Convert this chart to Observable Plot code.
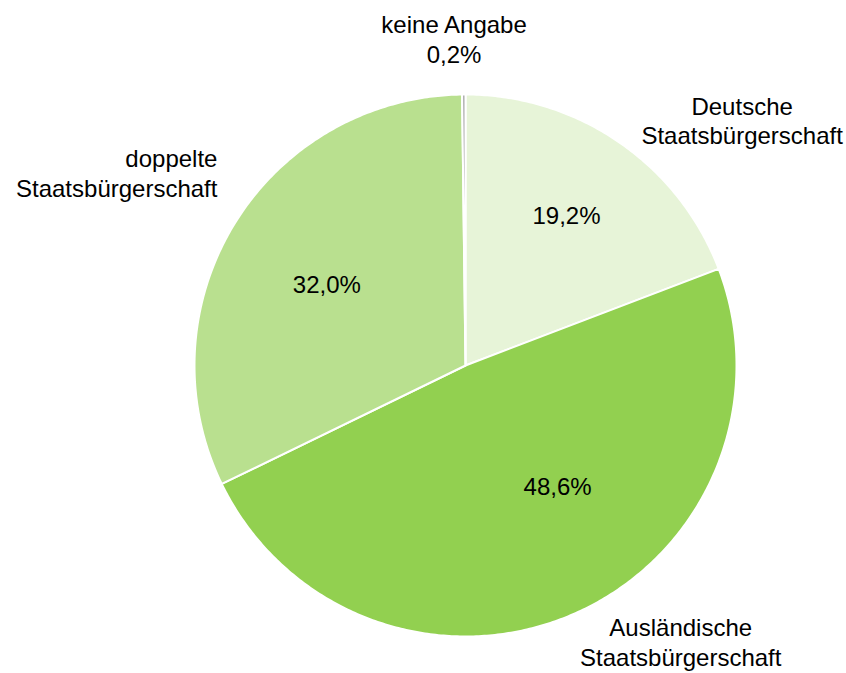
<!DOCTYPE html>
<html><head><meta charset="utf-8">
<script src="https://cdn.jsdelivr.net/npm/d3@7"></script>
<script src="https://cdn.jsdelivr.net/npm/@observablehq/plot@0.6"></script>
<style>body{margin:0;background:#fff;} svg{display:block;}</style>
</head><body><div id="chart"></div>
<script>
// Data
const categories = ["Deutsche\nStaatsbürgerschaft", "Ausländische\nStaatsbürgerschaft", "doppelte\nStaatsbürgerschaft", "keine Angabe"];
const shares = [19.2, 48.6, 32.0, 0.2];
const shareLabels = ["19,2%", "48,6%", "32,0%", "0,2%"];
const colors = ["#e7f4d8", "#92d050", "#b9e08f", "#a6a6a6"];

// Layout (label placement, polar: radius factor, angle in degrees clockwise from top)
const insidePolar = [[0.665, 34.1], [0.565, 143.0], [0.59, 299.9], null];
const outsidePolar = [[1.365, 48.4], [1.29, 142.0], [1.16, 307.9], [1.207, 358.0]];

const slices = categories.map((c, i) => ({category: c, share: shares[i], label: shareLabels[i], color: colors[i], i}));
const arcs = d3.pie().sort(null).value(d => d.share)(slices);

const pts = [];
for (const a of arcs) {
  const n = Math.max(2, Math.ceil((a.endAngle - a.startAngle) / 0.01));
  pts.push({i: a.data.i, x: 0, y: 0});
  for (let k = 0; k <= n; k++) {
    const t = a.startAngle + (a.endAngle - a.startAngle) * k / n;
    pts.push({i: a.data.i, x: Math.sin(t), y: Math.cos(t)});
  }
  pts.push({i: a.data.i, x: 0, y: 0});
}

const polar = ([r, deg]) => ({x: r * Math.sin(deg * Math.PI / 180), y: r * Math.cos(deg * Math.PI / 180)});
const inside = slices.filter(d => insidePolar[d.i]).map(d => ({...polar(insidePolar[d.i]), text: d.label}));
const outsideText = slices.map(d => d.i === 3 ? d.category + "\n" + d.label : d.category);
const outside = slices.map(d => ({...polar(outsidePolar[d.i]), text: outsideText[d.i], i: d.i}));

const chart = Plot.plot({
  width: 846,
  height: 673,
  marginLeft: 194,
  marginRight: 110,
  marginTop: 94,
  marginBottom: 37,
  x: {domain: [-1, 1], axis: null},
  y: {domain: [-1, 1], axis: null},
  style: {fontFamily: "'Liberation Sans', Arial, sans-serif", background: "#fff"},
  marks: [
    Plot.line(pts, {x: "x", y: "y", z: "i", fill: d => colors[d.i], stroke: "#ffffff", strokeWidth: 2, strokeLinejoin: "round", curve: "linear"}),
    Plot.text(inside, {x: "x", y: "y", text: "text", fontSize: 24, fill: "#000"}),
    Plot.text(outside.filter(d => d.i !== 2), {x: "x", y: "y", text: "text", fontSize: 24, lineHeight: 1.25, fill: "#000"}),
    Plot.text(outside.filter(d => d.i === 2), {x: "x", y: "y", text: "text", fontSize: 24, lineHeight: 1.25, fill: "#000", textAnchor: "end"})
  ]
});
document.getElementById("chart").append(chart);
</script>
</body></html>
